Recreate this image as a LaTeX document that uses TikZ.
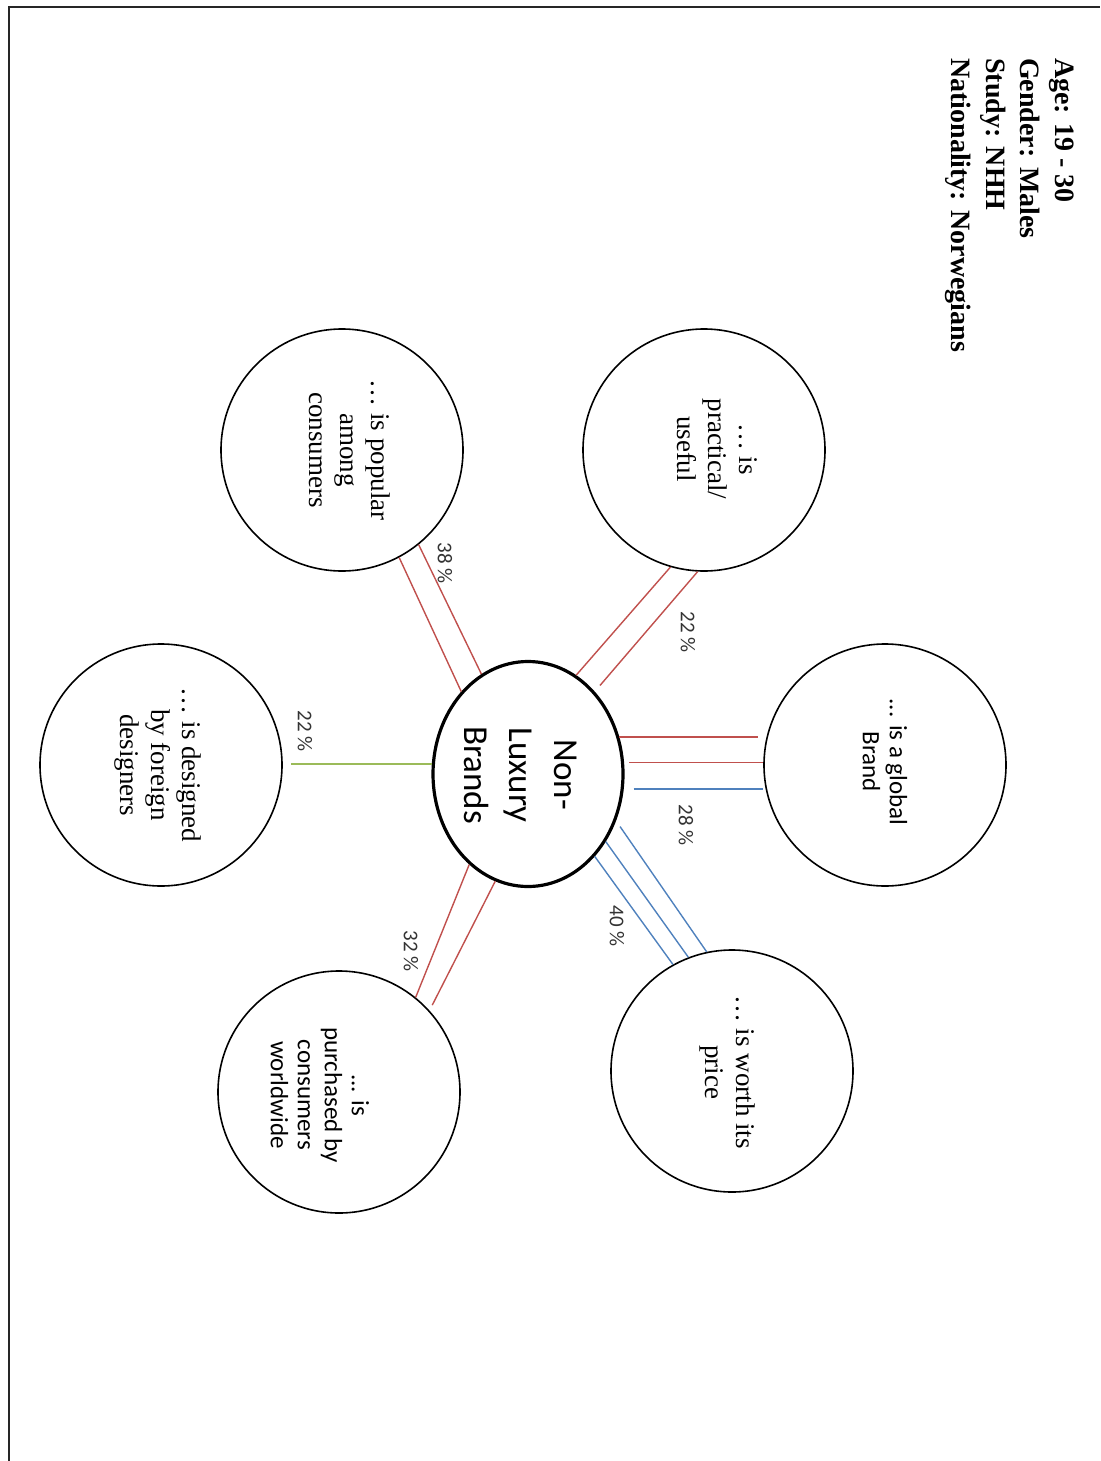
\documentclass[tikz,border=0pt]{standalone}
\usepackage{fontspec}
\setmainfont{Liberation Serif}
\newfontfamily\calfont{Carlito}
\usetikzlibrary{shapes.geometric}

\definecolor{linkred}{RGB}{192,80,77}
\definecolor{linkblue}{RGB}{79,129,189}
\definecolor{linkgreen}{RGB}{155,187,89}

\begin{document}
\begin{tikzpicture}[x=1pt,y=1pt,
  bubble/.style={circle,draw=black,line width=1.6pt,minimum size=242pt,inner sep=0pt},
  hub/.style={ellipse,draw=black,line width=3.2pt,minimum width=190pt,minimum height=225pt,inner sep=0pt},
  hubtxt/.style={rotate=-90,align=center,inner sep=0pt,font=\calfont\fontsize{35}{45}\selectfont},
  sertxt/.style={rotate=-90,align=center,inner sep=0pt,font=\fontsize{27}{31}\selectfont},
  santxt/.style={rotate=-90,align=center,inner sep=0pt,font=\calfont\fontsize{25}{27}\selectfont},
  pct/.style={rotate=-90,inner sep=0pt,text=black!80,font=\calfont\fontsize{21}{25}\selectfont},
  hdr/.style={rotate=-90,align=left,inner sep=0pt,anchor=north west,font=\bfseries\fontsize{28}{34.5}\selectfont},
  rlink/.style={draw=linkred,line width=1.4pt},
  blink/.style={draw=linkblue,line width=1.4pt},
  glink/.style={draw=linkgreen,line width=1.4pt}
]
\useasboundingbox (0,0) rectangle (1100,-1461);

% page frame
\draw[line width=2pt,black!85] (9,-1461) |- (1100,-7);

% heading block
\node[hdr] (head) at (1074,-58) {Age: 19 - 30\\Gender: Males\\Study: NHH\\Nationality: Norwegians};

% central ellipse
\node[hub] (c) at (528,-774) {};
\node[hubtxt] (ctext) at (521,-775) {Non-\\Luxury\\Brands};

% attribute bubbles
\node[bubble] (p)   at (704,-450)  {};
\node[bubble] (pop) at (342,-450)  {};
\node[bubble] (g)   at (885,-765)  {};
\node[bubble] (d)   at (161,-765)  {};
\node[bubble] (w)   at (732,-1071) {};
\node[bubble] (u)   at (339,-1092) {};

\node[sertxt] (ptext)   at (717,-449)  {… is\\practical/\\useful};
\node[sertxt] (poptext) at (350,-450)  {… is popular\\among\\consumers};
\node[santxt] (gtext)   at (885,-762)  {... is a global\\Brand};
\node[sertxt] (dtext)   at (158,-765)  {… is designed\\by foreign\\designers};
\node[sertxt] (wtext)   at (727,-1072) {… is worth its\\price};
\node[santxt] (utext)   at (320,-1095) {... is\\purchased by\\consumers\\worldwide};

% connectors
\draw[rlink] (c.64) -- (p.254);
\draw[rlink, shorten <=8pt] (c.51) -- (p.267);

\draw[rlink, shorten >=5pt] (c.22) -- (c.22 -| g.west);
\draw[rlink, shorten <=5pt] (c.7) -- (c.7 -| g.west);
\draw[blink, shorten <=10pt] (c.351) -- (c.351 -| g.west);

\draw[blink] (c.309) -- (w.119);
\draw[blink] (c.319) -- (w.111);
\draw[blink, shorten <=7pt] (c.332) -- (w.102);

\draw[rlink] (c.237) -- (u.51);
\draw[rlink, shorten >=6pt] (c.253) -- (u.42);

\draw[glink, shorten >=8pt] (c.174) -- (c.174 -| d.east);

\draw[rlink] (c.129) -- (pop.298);
\draw[rlink] (c.115) -- (pop.309);

% share labels
\node[pct] (l1) at (688,-632) {22 \%};
\node[pct] (l2) at (686,-825) {28 \%};
\node[pct] (l3) at (617,-926) {40 \%};
\node[pct] (l4) at (411,-951) {32 \%};
\node[pct] (l5) at (305,-731) {22 \%};
\node[pct] (l6) at (445,-563) {38 \%};
\end{tikzpicture}
\end{document}
